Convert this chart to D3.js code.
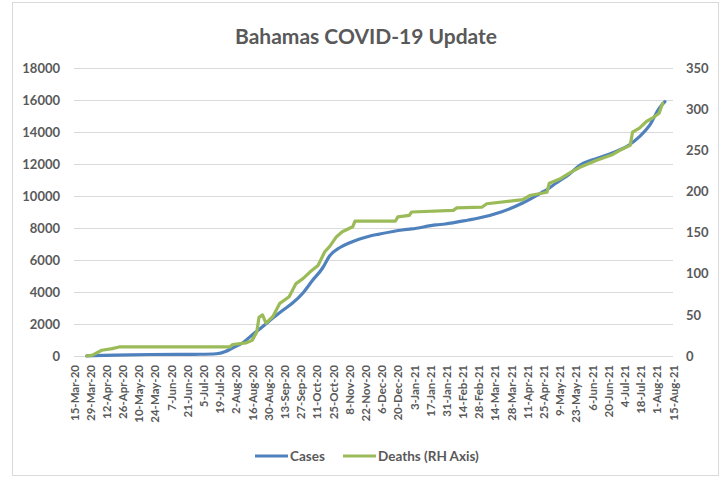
<!DOCTYPE html>
<html>
<head>
<meta charset="utf-8">
<script src="https://cdn.jsdelivr.net/npm/d3@7"></script>
<style>
  html, body { margin: 0; padding: 0; background: #fff; }
  svg { display: block; font-family: Lato, "Open Sans", "Liberation Sans", sans-serif; }
</style>
</head>
<body>
<svg id="chart" width="722" height="479"></svg>
<script>
// ---- data ----
const title = "Bahamas COVID-19 Update";
const leftTicks = [0, 2000, 4000, 6000, 8000, 10000, 12000, 14000, 16000, 18000];
const rightTicks = [0, 50, 100, 150, 200, 250, 300, 350];
const axisStart = "2020-03-15";
const axisEnd = "2021-08-15";
const seriesNames = ["Cases", "Deaths (RH Axis)"];

const caseDates = ["2020-03-26","2020-04-20","2020-05-20","2020-06-20","2020-07-02","2020-07-16","2020-07-24","2020-07-30","2020-08-08","2020-08-16","2020-08-25","2020-09-03","2020-09-11","2020-09-20","2020-09-29","2020-10-07","2020-10-16","2020-10-22","2020-10-31","2020-11-08","2020-11-17","2020-11-26","2020-12-04","2020-12-24","2021-01-01","2021-01-22","2021-01-30","2021-02-19","2021-02-28","2021-03-20","2021-04-07","2021-04-23","2021-04-28","2021-05-06","2021-05-11","2021-05-17","2021-05-26","2021-06-10","2021-06-24","2021-07-08","2021-07-17","2021-07-26","2021-08-03","2021-08-08"];
const caseValues = [10,60,95,104,110,140,280,500,830,1310,1830,2370,2830,3310,3940,4700,5500,6250,6780,7060,7310,7500,7620,7875,7940,8190,8250,8500,8625,9020,9560,10200,10400,10810,11050,11350,11900,12350,12710,13190,13710,14440,15480,15900];

const deathDates = ["2020-03-26","2020-03-31","2020-04-08","2020-04-17","2020-04-23","2020-07-28","2020-07-30","2020-08-11","2020-08-16","2020-08-20","2020-08-22","2020-08-25","2020-08-28","2020-09-03","2020-09-09","2020-09-17","2020-09-23","2020-09-29","2020-10-05","2020-10-12","2020-10-18","2020-10-22","2020-10-28","2020-11-02","2020-11-11","2020-11-13","2020-12-18","2020-12-20","2020-12-30","2021-01-01","2021-02-06","2021-02-09","2021-03-03","2021-03-07","2021-04-07","2021-04-13","2021-04-28","2021-04-30","2021-05-09","2021-05-17","2021-05-26","2021-06-10","2021-06-24","2021-06-30","2021-07-09","2021-07-11","2021-07-17","2021-07-23","2021-07-28","2021-08-03","2021-08-06"];
const deathValues = [0,1,7,9,11,11,14,16,19,29,47,50,40,48,64,72,88,94,102,110,127,133,145,151,157,164,164,169,171,175,177,180,181,185,190,195,199,210,215,222,229,238,245,250,256,272,277,285,289,295,307];

// ---- layout ----
const svg = d3.select("#chart");
const plot = { left: 74, right: 673, top: 68, bottom: 356 };
const grey = "#595959";
const parse = d3.timeParse("%Y-%m-%d");
const fmt = d3.timeFormat("%-d-%b-%y");
const FONT = "Lato, sans-serif";

// chart border
svg.append("rect").attr("x", 12.5).attr("y", 2.5).attr("width", 706).attr("height", 473)
  .attr("fill", "#fff").attr("stroke", "#d9d9d9").attr("stroke-width", 1);

const x = d3.scaleTime().domain([parse(axisStart), parse(axisEnd)]).range([plot.left, plot.right]);
const yL = d3.scaleLinear().domain([0, 18000]).range([plot.bottom, plot.top]);
const yR = d3.scaleLinear().domain([0, 350]).range([plot.bottom, plot.top]);

// gridlines
svg.append("g").selectAll("line").data(leftTicks).join("line")
  .attr("x1", plot.left).attr("x2", plot.right)
  .attr("y1", d => Math.round(yL(d)) + 0.5).attr("y2", d => Math.round(yL(d)) + 0.5)
  .attr("stroke", "#d9d9d9").attr("stroke-width", 1);

// left axis
const leftAxis = svg.append("g").attr("transform", `translate(${plot.left},0)`)
  .call(d3.axisLeft(yL).tickValues(leftTicks).tickSize(0).tickPadding(14).tickFormat(d3.format("d")));
leftAxis.select(".domain").remove();
leftAxis.selectAll("text").attr("fill", grey).style("font-size", "13px").style("font-weight", "bold")
  .style("font-family", FONT);

// right axis
const rightAxis = svg.append("g").attr("transform", `translate(${plot.right},0)`)
  .call(d3.axisRight(yR).tickValues(rightTicks).tickSize(0).tickPadding(13).tickFormat(d3.format("d")));
rightAxis.select(".domain").remove();
rightAxis.selectAll("text").attr("fill", grey).style("font-size", "13px").style("font-weight", "bold")
  .style("font-family", FONT);

// bottom axis: every 14 days
const xTicks = d3.timeDay.every(1).range(parse(axisStart), d3.timeDay.offset(parse(axisEnd), 1))
  .filter((d, i) => i % 14 === 0);
const bottomAxis = svg.append("g").attr("transform", `translate(0,${plot.bottom})`)
  .call(d3.axisBottom(x).tickValues(xTicks).tickSize(0).tickFormat(fmt));
bottomAxis.select(".domain").remove();
bottomAxis.selectAll("text")
  .attr("fill", grey).style("font-size", "11.5px").style("font-weight", "bold")
  .style("font-family", FONT)
  .attr("text-anchor", "end").attr("dy", "0.35em").attr("dx", 0).attr("y", 0)
  .attr("transform", "translate(0,9) rotate(-90)");

// lines
const cases = caseDates.map((d, i) => ({ date: parse(d), v: caseValues[i] }));
const deaths = deathDates.map((d, i) => ({ date: parse(d), v: deathValues[i] }));

svg.append("path").datum(cases)
  .attr("fill", "none").attr("stroke", "#4F81BD").attr("stroke-width", 3.2)
  .attr("stroke-linejoin", "round").attr("stroke-linecap", "round")
  .attr("d", d3.line().curve(d3.curveMonotoneX).x(d => x(d.date)).y(d => yL(d.v)));

svg.append("path").datum(deaths)
  .attr("fill", "none").attr("stroke", "#9BBB59").attr("stroke-width", 3.2)
  .attr("stroke-linejoin", "round").attr("stroke-linecap", "round")
  .attr("d", d3.line().x(d => x(d.date)).y(d => yR(d.v)));

// title
svg.append("text").attr("x", 366).attr("y", 44).attr("text-anchor", "middle")
  .attr("fill", grey).style("font-size", "21px").style("font-weight", "bold")
  .style("font-family", FONT).text(title);

// legend
const legend = [
  { name: seriesNames[0], color: "#4F81BD", x1: 255, x2: 288, tx: 290 },
  { name: seriesNames[1], color: "#9BBB59", x1: 343, x2: 376, tx: 378 }
];
const lg = svg.append("g");
legend.forEach(l => {
  lg.append("line").attr("x1", l.x1).attr("x2", l.x2).attr("y1", 456).attr("y2", 456)
    .attr("stroke", l.color).attr("stroke-width", 3.2);
  lg.append("text").attr("x", l.tx).attr("y", 456).attr("dy", "0.35em")
    .attr("fill", grey).style("font-size", "13.5px").style("font-weight", "bold")
    .style("font-family", FONT).text(l.name);
});
</script>
</body>
</html>
